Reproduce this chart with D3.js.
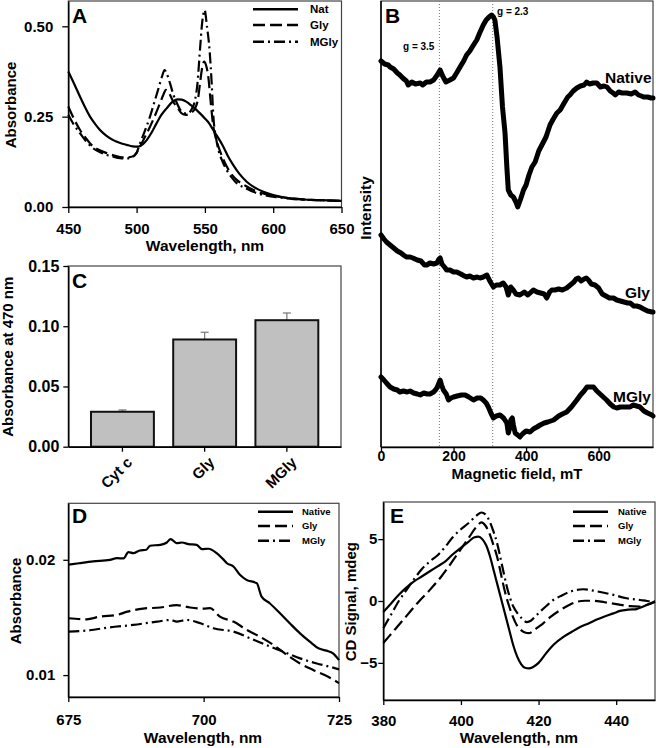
<!DOCTYPE html>
<html><head><meta charset="utf-8">
<script src="https://cdn.jsdelivr.net/npm/d3@7"></script>
<style>
body{margin:0;background:#fff}
text{font-family:"Liberation Sans",Arial,sans-serif;font-weight:bold;fill:#000}
</style>
</head><body>
<svg id="c" width="656" height="748"></svg>
<script>
// ---------- Panel A: absorbance spectra ----------
const aNat = [[450,0.375],[455,0.335],[458.6,0.305],[462,0.278],[465.9,0.25],[470,0.228],[473.2,0.213],[478,0.197],[482.9,0.185],[488,0.177],[492.7,0.172],[497,0.168],[501.2,0.167],[504,0.172],[507.4,0.185],[511,0.206],[514.7,0.232],[518,0.254],[522,0.273],[526,0.290],[530,0.298],[533,0.297],[536.6,0.291],[540,0.281],[544,0.268],[547,0.257],[550,0.245],[553,0.232],[556.1,0.213],[560,0.19],[563.5,0.167],[567,0.14],[570.8,0.116],[575,0.093],[580.6,0.07],[586,0.055],[592.8,0.042],[600,0.033],[607.4,0.027],[615,0.023],[625,0.02],[635,0.019],[650,0.017]];
const aGly = [[450,0.278],[454,0.245],[458.6,0.213],[463,0.19],[468.3,0.167],[473,0.157],[478.1,0.149],[483,0.143],[487.8,0.138],[492,0.137],[496.4,0.139],[500,0.150],[502.5,0.167],[506,0.193],[509.8,0.222],[514,0.258],[517.1,0.287],[519.5,0.310],[521.5,0.324],[523,0.320],[524.5,0.31],[527,0.29],[529.3,0.278],[533,0.259],[536,0.255],[538,0.256],[540.5,0.262],[542.8,0.273],[545,0.300],[546.4,0.342],[548,0.385],[549.4,0.402],[551,0.39],[552.5,0.36],[554,0.30],[556.2,0.222],[558,0.19],[559.9,0.167],[563,0.136],[566,0.112],[570,0.088],[573.3,0.075],[580,0.058],[585.5,0.047],[592,0.038],[602.6,0.029],[615,0.023],[631.9,0.019],[650,0.017]];
const aMGly = [[450,0.255],[454,0.228],[458.6,0.204],[463,0.182],[468.3,0.162],[473,0.152],[478.1,0.144],[483,0.139],[487.8,0.135],[492,0.134],[496.4,0.137],[500,0.15],[502.5,0.176],[506,0.21],[509.8,0.25],[513,0.29],[515.7,0.324],[518.5,0.36],[520.5,0.379],[522,0.37],[524.5,0.342],[527,0.31],[528.5,0.296],[533,0.264],[536,0.259],[538,0.26],[540.5,0.272],[542.8,0.296],[544.5,0.34],[546.4,0.435],[548,0.51],[549.8,0.545],[551.5,0.50],[553.4,0.435],[555,0.34],[556.2,0.25],[558,0.195],[559.9,0.158],[563,0.125],[566,0.102],[570,0.08],[573.3,0.066],[580,0.052],[585.5,0.042],[592,0.034],[602.6,0.027],[615,0.022],[631.9,0.019],[650,0.017]];
const aXTicks = [450,500,550,600,650];
const aYTicks = [0,0.25,0.5];
const aLegend = ["Nat","Gly","MGly"];

// ---------- Panel B: EPR spectra ----------
const bNative = [[0,386],[10,383],[20,382],[25,380],[35,378],[45,374],[52,372],[60,369],[70,366],[75,362],[85,365],[95,363],[108,364],[115,362],[125,365],[135,365],[145,367],[155,372],[163,377],[170,371],[179,365],[190,367],[200,369],[210,375],[218,380],[228,386],[236,392],[245,396],[255,402],[264,407],[272,414],[282,422],[290,427],[298,430],[305,432],[310,430],[314,427],[320,410],[328,380],[335,340],[342,314],[347,280],[351,257],[358,252],[365,250],[372,245],[377,240],[385,248],[393,257],[400,262],[408,272],[416,280],[425,285],[435,296],[445,303],[455,310],[466,322],[475,328],[485,334],[494,337],[505,344],[515,350],[521,352],[530,356],[540,359],[550,361],[560,362],[567,365],[575,363],[585,364],[595,364],[605,360],[615,361],[623,360],[632,356],[640,354],[646,352],[655,355],[665,354],[678,354],[690,353],[701,355],[710,352],[718,351],[724,350],[735,350],[745,349],[750,349]];
const bGly = [[0,212],[8,208],[15,205],[25,202],[35,199],[45,196],[55,194],[62,192],[70,190],[80,190],[88,189],[100,187],[110,186],[120,182],[126,182],[135,184],[145,183],[154,184],[160,188],[163,189],[168,183],[175,180],[181,177],[190,177],[200,175],[209,175],[220,173],[230,171],[236,170],[245,171],[255,169],[265,170],[273,169],[282,170],[292,172],[300,166],[310,160],[318,162],[328,162],[337,164],[345,160],[351,152],[358,160],[365,157],[372,153],[383,152],[395,155],[405,152],[420,157],[430,155],[440,154],[450,153],[457,149],[465,155],[471,157],[480,157],[490,158],[500,157],[512,159],[522,162],[532,165],[538,168],[544,169],[552,166],[560,168],[566,169],[572,167],[580,163],[590,162],[600,159],[610,153],[620,151],[630,149],[641,149],[650,147],[660,146],[670,145],[680,144],[687,144],[697,141],[705,141],[714,140],[724,138],[735,136],[747,135],[750,135]];
const bMGly = [[0,70],[8,67],[15,64],[25,60],[35,58],[45,57],[52,55],[62,56],[72,55],[80,56],[90,54],[100,53],[108,52],[118,54],[128,53],[135,53],[145,55],[150,57],[154,59],[160,64],[163,67],[167,62],[172,57],[180,53],[186,47],[193,49],[200,50],[210,51],[222,52],[232,52],[242,50],[255,47],[265,49],[275,49],[282,47],[290,44],[296,40],[303,34],[310,29],[318,31],[328,32],[338,29],[347,24],[351,14],[355,19],[358,27],[362,29],[365,22],[370,14],[377,12],[383,10],[390,13],[400,16],[411,15],[420,18],[430,20],[439,22],[450,24],[460,25],[476,27],[490,31],[500,33],[512,35],[525,40],[540,47],[550,52],[560,56],[568,60],[578,60],[586,60],[595,56],[604,53],[613,50],[622,47],[632,43],[642,40],[650,39],[660,40],[672,40],[687,40],[695,42],[705,41],[714,40],[725,36],[735,34],[747,32],[750,31]];
const bXTicks = [0,200,400,600];
const bGLines = [161, 308];
const bGLabels = ["g = 3.5","g = 2.3"];
const bSeriesLabels = ["Native","Gly","MGly"];

// ---------- Panel C: bars ----------
const cCategories = ["Cyt c","Gly","MGly"];
const cValues = [0.029, 0.089, 0.105];
const cErrors = [0.0015, 0.006, 0.006];
const cYTicks = [0,0.05,0.10,0.15];

// ---------- Panel D: 695 nm band ----------
const dNative = [[675,0.01957],[677,0.0197],[679.6,0.01986],[682.7,0.02],[684,0.02014],[685.2,0.02012],[686.1,0.02067],[687,0.02058],[688.2,0.02081],[689.4,0.02087],[690.1,0.02122],[692,0.0213],[693.2,0.0215],[693.9,0.0218],[695,0.02145],[696,0.0215],[697.2,0.02136],[698.7,0.0213],[699.7,0.02093],[700.9,0.02096],[702.4,0.02058],[703.5,0.0201],[704.3,0.0197],[705.5,0.01942],[706.7,0.0187],[707.9,0.01826],[709.8,0.01797],[710.7,0.01681],[712.2,0.01623],[714.1,0.01536],[715.9,0.0145],[717.8,0.01362],[719.6,0.0129],[721.2,0.01232],[722.7,0.01212],[723.9,0.01189],[725,0.0113]];
const dGly = [[675,0.01493],[678.4,0.01484],[680.8,0.01507],[684,0.01522],[685.9,0.0155],[688.8,0.01577],[692,0.01586],[695,0.01607],[697.5,0.01586],[700,0.01577],[701.2,0.0158],[703,0.01507],[705.5,0.01464],[708,0.01391],[710.4,0.01333],[712.9,0.01261],[715.4,0.01174],[717.8,0.01101],[720.3,0.01043],[723,0.00986],[725,0.0093]];
const dMGly = [[675,0.01377],[678.4,0.01386],[682.7,0.01414],[687,0.01435],[691.4,0.01464],[693.9,0.01478],[695,0.01464],[696.9,0.01478],[699.4,0.01449],[701.8,0.01406],[705.5,0.01377],[708.6,0.01319],[711.6,0.01261],[714.7,0.01203],[717.8,0.01145],[720.9,0.01101],[723.3,0.01072],[725,0.0105]];
const dXTicks = [675,700,725];
const dYTicks = [0.01,0.02];

// ---------- Panel E: CD spectra ----------
const eNative = [[380,-0.9],[382,-0.2],[384,0.5],[386,1.1],[388,1.6],[390,2.0],[392,2.4],[394,2.8],[396,3.2],[398,3.8],[400,4.3],[402,4.8],[403.5,5.15],[404.5,5.2],[405.5,5.0],[406.5,4.5],[407.5,3.6],[408.5,2.4],[409.5,1.2],[410.5,0.0],[411.5,-1.2],[412.5,-2.4],[413.5,-3.6],[414.5,-4.5],[415.5,-5.1],[416.5,-5.4],[417.5,-5.45],[418.5,-5.35],[420,-5.0],[422,-4.2],[424,-3.5],[426.4,-2.9],[428.5,-2.5],[430.7,-2.1],[433,-1.8],[435,-1.5],[437,-1.25],[439.3,-1.0],[441,-0.8],[443,-0.7],[445.3,-0.65],[446.5,-0.5],[448,-0.3],[450,-0.05]];
const eGly = [[380,-3.4],[383,-2.3],[386,-1.2],[389,-0.1],[392,0.9],[395,2.0],[398,3.3],[400,4.2],[402,5.1],[404,6.0],[405.3,6.35],[406.3,6.1],[407.3,5.5],[408.3,4.6],[409.3,3.6],[410.3,2.2],[411.3,0.8],[412.3,-0.3],[413.3,-1.2],[414.3,-1.9],[415.3,-2.3],[416.5,-2.55],[417.5,-2.6],[418.5,-2.45],[419.5,-2.2],[421.2,-1.8],[423,-1.3],[425.5,-0.75],[428,-0.3],[430,-0.05],[432,0.02],[434,0.02],[437,-0.1],[440,-0.25],[443.6,-0.42],[446,-0.45],[448,-0.3],[450,-0.05]];
const eMGly = [[380,-2.2],[382,-1.1],[384,0.0],[386,0.9],[388,1.8],[390,2.6],[392,3.2],[394,3.7],[396,4.4],[398,5.2],[400,5.8],[402,6.3],[404,6.9],[405.3,7.15],[406.3,7.0],[407.3,6.5],[408.4,5.6],[409.3,4.7],[410.1,3.6],[411,2.3],[411.8,1.2],[412.6,0.3],[413.5,-0.45],[414.6,-1.0],[415.7,-1.4],[417,-1.7],[418,-1.6],[419,-1.3],[420.4,-0.86],[422,-0.4],[423.8,0.08],[426,0.45],[428.1,0.75],[431.5,0.95],[435,0.78],[439.3,0.49],[442.7,0.22],[446.2,0.08],[448,0.0],[450,-0.05]];
const eXTicks = [380,400,420,440];
const eYTicks = [-5,0,5];
const deLegend = ["Native","Gly","MGly"];

const dashes = [null, "12,5", "11,4,2,4"];

const svg = d3.select("#c");

function frame(x0,x1,y0,y1){
  svg.append("rect").attr("x",x0).attr("y",y0).attr("width",x1-x0).attr("height",y1-y0)
    .attr("fill","none").attr("stroke","#444").attr("stroke-width",1.2);
}
function styleAxis(g,size){
  g.selectAll("text").style("font-size",size+"px").style("font-family",'"Liberation Sans",Arial,sans-serif').style("font-weight","bold");
  g.selectAll("line").attr("stroke","#000").attr("stroke-width",1.3);
  g.select(".domain").attr("stroke","#000").attr("stroke-width",1.5);
}
function panelLetter(t,x,y){
  svg.append("text").attr("x",x).attr("y",y).style("font-size","21px").text(t);
}
function yTitle(t,x,y,size){
  svg.append("text").attr("transform",`translate(${x},${y}) rotate(-90)`).attr("text-anchor","middle")
    .style("font-size",size+"px").text(t);
}
function xTitle(t,x,y,size){
  svg.append("text").attr("x",x).attr("y",y).attr("text-anchor","middle").style("font-size",size+"px").text(t);
}
function legend(items,x0,x1,tx,ys,size,sw){
  items.forEach((t,i)=>{
    svg.append("line").attr("x1",x0).attr("x2",x1).attr("y1",ys[i]).attr("y2",ys[i])
      .attr("stroke","#000").attr("stroke-width",sw).attr("stroke-dasharray",dashes[i]);
    svg.append("text").attr("x",tx).attr("y",ys[i]).attr("dy","0.35em").style("font-size",size+"px").text(t);
  });
}
function drawLines(series,x,y,sw,curve){
  const line = d3.line().x(d=>x(d[0])).y(d=>y(d[1])).curve(curve);
  series.forEach((s,i)=>{
    svg.append("path").datum(s).attr("d",line).attr("fill","none").attr("stroke","#000")
      .attr("stroke-width",sw).attr("stroke-linejoin","round").attr("stroke-dasharray",dashes[i]);
  });
}

// ===== Panel A =====
{
  const x = d3.scaleLinear().domain([450,650]).range([68.3,341.5]);
  const y = d3.scaleLinear().domain([0,0.57]).range([207,1]);
  frame(68.3,341.5,1,207);
  drawLines([aNat,aGly,aMGly],x,y,2.2,d3.curveMonotoneX);
  const gx = svg.append("g").attr("transform","translate(0,207)")
    .call(d3.axisBottom(x).tickValues(aXTicks).tickSize(6).tickSizeOuter(0).tickPadding(10));
  styleAxis(gx,15);
  const gy = svg.append("g").attr("transform","translate(68.3,0)")
    .call(d3.axisLeft(y).tickValues(aYTicks).tickFormat(d3.format(".2f")).tickSize(6).tickSizeOuter(0).tickPadding(9));
  styleAxis(gy,15);
  legend(aLegend,253,298,310,[9.3,25,41.7],11.5,2.5);
  panelLetter("A",72,23);
  yTitle("Absorbance",15.5,105,15);
  xTitle("Wavelength, nm",205,250.5,15.5);
}

// ===== Panel B =====
{
  const x = d3.scaleLinear().domain([0,750]).range([381,653]);
  const y = d3.scaleLinear().domain([0,446]).range([447,1]);
  frame(381,653,1,447);
  bGLines.forEach(g=>{
    svg.append("line").attr("x1",x(g)).attr("x2",x(g)).attr("y1",1).attr("y2",447)
      .attr("stroke","#777").attr("stroke-width",1).attr("stroke-dasharray","1,2");
  });
  const line = d3.line().x(d=>x(d[0])).y(d=>y(d[1]));
  [bNative,bGly,bMGly].forEach(s=>{
    svg.append("path").datum(s).attr("d",line).attr("fill","none").attr("stroke","#000")
      .attr("stroke-width",5).attr("stroke-linejoin","round").attr("stroke-linecap","round");
  });
  const gx = svg.append("g").attr("transform","translate(0,447)")
    .call(d3.axisBottom(x).tickValues(bXTicks).tickSize(5).tickSizeOuter(0).tickPadding(-1));
  styleAxis(gx,14);
  svg.append("line").attr("x1",381).attr("x2",381).attr("y1",1).attr("y2",447).attr("stroke","#000").attr("stroke-width",1.5);
  svg.append("text").attr("x",403).attr("y",46).attr("dy","0.35em").style("font-size","10px").text(bGLabels[0]);
  svg.append("text").attr("x",497).attr("y",11).attr("dy","0.35em").style("font-size","10px").text(bGLabels[1]);
  svg.append("text").attr("x",605).attr("y",78).attr("dy","0.35em").style("font-size","15.5px").text(bSeriesLabels[0]);
  svg.append("text").attr("x",625).attr("y",293).attr("dy","0.35em").style("font-size","15.5px").text(bSeriesLabels[1]);
  svg.append("text").attr("x",613).attr("y",397).attr("dy","0.35em").style("font-size","15.5px").text(bSeriesLabels[2]);
  panelLetter("B",385,23);
  yTitle("Intensity",370.5,208,15.5);
  xTitle("Magnetic field, mT",517,478.5,15);
}

// ===== Panel C =====
{
  const x = d3.scaleBand().domain(cCategories).range([68.3,341]).paddingInner(0.235).paddingOuter(0.276);
  const y = d3.scaleLinear().domain([0,0.15]).range([446.7,266]);
  frame(68.3,341,266,446.7);
  cCategories.forEach((c,i)=>{
    const cx = x(c)+x.bandwidth()/2;
    svg.append("line").attr("x1",cx).attr("x2",cx).attr("y1",y(cValues[i])).attr("y2",y(cValues[i]+cErrors[i]))
      .attr("stroke","#777").attr("stroke-width",1.2);
    svg.append("line").attr("x1",cx-4).attr("x2",cx+4).attr("y1",y(cValues[i]+cErrors[i])).attr("y2",y(cValues[i]+cErrors[i]))
      .attr("stroke","#777").attr("stroke-width",1.2);
    svg.append("rect").attr("x",x(c)).attr("y",y(cValues[i])).attr("width",x.bandwidth())
      .attr("height",y(0)-y(cValues[i])).attr("fill","#c0c0c0").attr("stroke","#111").attr("stroke-width",2);
  });
  const gy = svg.append("g").attr("transform","translate(68.3,0)")
    .call(d3.axisLeft(y).tickValues(cYTicks).tickFormat(d3.format(".2f")).tickSize(5).tickSizeOuter(0).tickPadding(4));
  styleAxis(gy,16);
  const gx = svg.append("g").attr("transform","translate(0,446.7)")
    .call(d3.axisBottom(x).tickSize(5).tickSizeOuter(0));
  styleAxis(gx,15);
  gx.selectAll("text").attr("text-anchor","end").attr("dy","0.35em")
    .attr("transform","translate(7,13) rotate(-45)").attr("y",0).attr("x",0);
  panelLetter("C",72,288);
  yTitle("Absorbance at 470 nm",13.3,356.7,15);
}

// ===== Panel D =====
{
  const x = d3.scaleLinear().domain([675,725]).range([68.3,339]);
  const y = d3.scaleLinear().domain([0.0081,0.0249]).range([697,503.3]);
  frame(68.3,339,503.3,697);
  drawLines([dNative,dGly,dMGly],x,y,2.2,d3.curveMonotoneX);
  const gx = svg.append("g").attr("transform","translate(0,697)")
    .call(d3.axisBottom(x).tickValues(dXTicks).tickSize(5).tickSizeOuter(0).tickPadding(12));
  styleAxis(gx,15);
  const gy = svg.append("g").attr("transform","translate(68.3,0)")
    .call(d3.axisLeft(y).tickValues(dYTicks).tickFormat(d3.format(".2f")).tickSize(5).tickSizeOuter(0).tickPadding(8));
  styleAxis(gy,15);
  legend(deLegend,258,293,302,[511.7,526,540.7],9.5,2.5);
  panelLetter("D",72,523);
  yTitle("Absorbance",20.5,601,15);
  xTitle("Wavelength, nm",203,742.5,15.5);
}

// ===== Panel E =====
{
  const x = d3.scaleLinear().domain([380,450]).range([383.3,655]);
  const y = d3.scaleLinear().domain([-8,8]).range([700,502]);
  frame(383.3,655,502,700);
  drawLines([eNative,eGly,eMGly],x,y,2.2,d3.curveMonotoneX);
  const gx = svg.append("g").attr("transform","translate(0,700)")
    .call(d3.axisBottom(x).tickValues(eXTicks).tickSize(5).tickSizeOuter(0).tickPadding(10));
  styleAxis(gx,15);
  const gy = svg.append("g").attr("transform","translate(383.3,0)")
    .call(d3.axisLeft(y).tickValues(eYTicks).tickSize(5).tickSizeOuter(0).tickPadding(1));
  styleAxis(gy,15);
  legend(deLegend,573,608,618,[511.7,526,540.7],9.5,2.5);
  panelLetter("E",390,523);
  yTitle("CD Signal, mdeg",355.5,601.7,15);
  xTitle("Wavelength, nm",519,742.5,15.5);
}
</script>
</body></html>
